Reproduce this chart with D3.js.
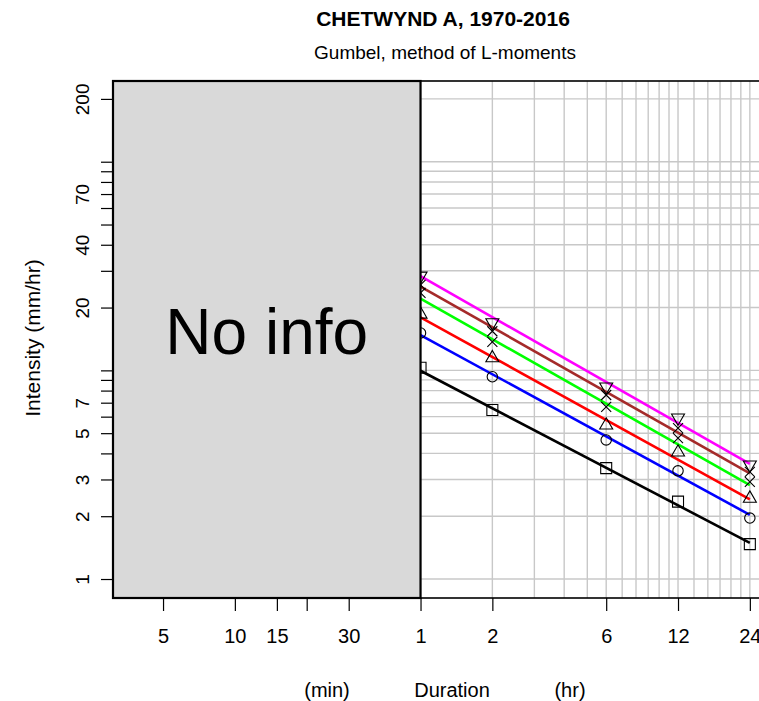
<!DOCTYPE html>
<html>
<head>
<meta charset="utf-8">
<script src="https://cdn.jsdelivr.net/npm/d3@7"></script>
<style>
  body { margin: 0; background: #fff; }
  svg { display: block; font-family: "Liberation Sans", Arial, Helvetica, sans-serif; }
</style>
</head>
<body>
<svg id="chart" width="759" height="701"></svg>
<script>
// durations in hours for the gauge data
const durations = [1, 2, 6, 12, 24];
const seriesColors = ['#000000', '#0000ff', '#ff0000', '#00ff00', '#a52a2a', '#ff00ff'];
const seriesShapes = ['square', 'circle', 'triangle', 'cross', 'cross', 'triangleDown'];

// observed intensities (mm/hr) at each duration
const seriesPoints = [
  [10.3, 6.46, 3.40, 2.35, 1.47],
  [15.1, 9.32, 4.64, 3.30, 1.96],
  [18.6, 11.5, 5.47, 4.06, 2.44],
  [23.5, 13.7, 6.68, 4.74, 2.92],
  [25.7, 15.4, 7.62, 5.29, 3.26],
  [28.3, 16.9, 8.32, 5.91, 3.52]
];
// fitted line values at 1 hr and 24 hr
const lineDurations = [1, 24];
const seriesLines = [
  [9.96, 1.49],
  [14.77, 2.03],
  [17.96, 2.41],
  [22.1, 2.82],
  [25.2, 3.21],
  [28.3, 3.56]
];

// axes (x in minutes)
const xTicks = [5, 10, 15, 20, 30, 60, 120, 360, 720, 1440];
const xTickLabels = ['5', '10', '15', '', '30', '1', '2', '6', '12', '24'];
const yTicks = [1, 2, 3, 4, 5, 6, 7, 8, 9, 10, 20, 30, 40, 50, 60, 70, 80, 90, 100, 200];
const yTickLabels = ['1', '2', '3', '', '5', '', '7', '', '', '', '20', '', '40', '', '', '70', '', '', '', '200'];
const gridHours = [1, 2, 3, 4, 5, 6, 7, 8, 9, 10, 11, 12, 14, 16, 18, 20, 22, 24];
const xLimits = [3.085, 1818];
const yLimits = [0.811, 243.7];
const noInfoUntil = 60; // minutes

const plot = { left: 113, right: 774, top: 81, bottom: 598 };

const svg = d3.select('#chart');
const x = d3.scaleLog().domain(xLimits).range([plot.left, plot.right]);
const y = d3.scaleLog().domain(yLimits).range([plot.bottom, plot.top]);

const gridColor = '#c8c8c8';

// grid
const grid = svg.append('g');
grid.selectAll('line.v')
  .data(gridHours)
  .enter().append('line')
  .attr('x1', d => x(d * 60)).attr('x2', d => x(d * 60))
  .attr('y1', plot.top).attr('y2', plot.bottom)
  .attr('stroke', gridColor).attr('stroke-width', 1.4);
grid.selectAll('line.h')
  .data(yTicks)
  .enter().append('line')
  .attr('x1', plot.left).attr('x2', plot.right)
  .attr('y1', d => y(d)).attr('y2', d => y(d))
  .attr('stroke', gridColor).attr('stroke-width', 1.4);

// fitted lines
const line = d3.line()
  .x(d => x(d[0] * 60))
  .y(d => y(d[1]));

svg.append('g').selectAll('path')
  .data(seriesLines)
  .enter().append('path')
  .attr('d', d => line(d.map((v, i) => [lineDurations[i], v])))
  .attr('fill', 'none')
  .attr('stroke', (d, i) => seriesColors[i])
  .attr('stroke-width', 2.6);

// point symbols
function symbolPath(shape) {
  const s = 5.5;
  if (shape === 'square') return `M${-s},${-s}H${s}V${s}H${-s}Z`;
  if (shape === 'circle') return `M-5.2,0A5.2,5.2 0 1,0 5.2,0A5.2,5.2 0 1,0 -5.2,0`;
  if (shape === 'triangle') return `M0,-7.3L6.5,4L-6.5,4Z`;
  if (shape === 'triangleDown') return `M0,7.3L6.5,-4L-6.5,-4Z`;
  return `M-5,-5L5,5M-5,5L5,-5`;
}

const pts = svg.append('g');
seriesPoints.forEach((vals, si) => {
  pts.selectAll(null)
    .data(vals)
    .enter().append('path')
    .attr('transform', (v, i) => `translate(${x(durations[i] * 60)},${y(v)})`)
    .attr('d', symbolPath(seriesShapes[si]))
    .attr('fill', 'none')
    .attr('stroke', '#000')
    .attr('stroke-width', 1.1);
});

// no info box
svg.append('rect')
  .attr('x', plot.left).attr('y', plot.top)
  .attr('width', x(noInfoUntil) - plot.left)
  .attr('height', plot.bottom - plot.top)
  .attr('fill', '#d9d9d9')
  .attr('stroke', '#000').attr('stroke-width', 2.2);

svg.append('text')
  .attr('x', (plot.left + x(noInfoUntil)) / 2)
  .attr('y', 354)
  .attr('text-anchor', 'middle')
  .attr('font-size', 64)
  .text('No info');

// plot frame
svg.append('rect')
  .attr('x', plot.left).attr('y', plot.top)
  .attr('width', plot.right - plot.left)
  .attr('height', plot.bottom - plot.top)
  .attr('fill', 'none')
  .attr('stroke', '#000').attr('stroke-width', 1.6);

// x axis
const xAxis = svg.append('g')
  .attr('transform', `translate(0,${plot.bottom})`)
  .call(d3.axisBottom(x)
    .tickValues(xTicks)
    .tickFormat((d, i) => xTickLabels[i])
    .tickSize(13)
    .tickPadding(18));
xAxis.select('.domain').remove();
xAxis.selectAll('line').attr('stroke', '#000').attr('stroke-width', 1.2);
xAxis.selectAll('text').attr('font-size', 20).attr('fill', '#000')
  .attr('font-family', '"Liberation Sans", Arial, sans-serif');

// y axis
const yAxis = svg.append('g')
  .attr('transform', `translate(${plot.left},0)`)
  .call(d3.axisLeft(y)
    .tickValues(yTicks)
    .tickFormat((d, i) => yTickLabels[i])
    .tickSize(12));
yAxis.select('.domain').remove();
yAxis.selectAll('line').attr('stroke', '#000').attr('stroke-width', 1.2);
yAxis.selectAll('text')
  .attr('x', 0).attr('dy', 0).attr('y', 0)
  .attr('text-anchor', 'middle')
  .attr('transform', 'translate(-24.5,0) rotate(-90)')
  .attr('font-size', 19).attr('fill', '#000')
  .attr('font-family', '"Liberation Sans", Arial, sans-serif');

// titles
svg.append('text')
  .attr('x', 443).attr('y', 26)
  .attr('text-anchor', 'middle')
  .attr('font-size', 21).attr('font-weight', 'bold')
  .text('CHETWYND A, 1970-2016');

svg.append('text')
  .attr('x', 445).attr('y', 59)
  .attr('text-anchor', 'middle')
  .attr('font-size', 19)
  .text('Gumbel, method of L-moments');

svg.append('text')
  .attr('x', 40).attr('y', 338)
  .attr('text-anchor', 'middle')
  .attr('transform', 'rotate(-90,40,338)')
  .attr('font-size', 21)
  .text('Intensity (mm/hr)');

const xTitles = [
  { label: '(min)', x: 327 },
  { label: 'Duration', x: 452 },
  { label: '(hr)', x: 570 }
];
svg.append('g').selectAll('text')
  .data(xTitles)
  .enter().append('text')
  .attr('x', d => d.x).attr('y', 697)
  .attr('text-anchor', 'middle')
  .attr('font-size', 20)
  .text(d => d.label);
</script>
</body>
</html>
